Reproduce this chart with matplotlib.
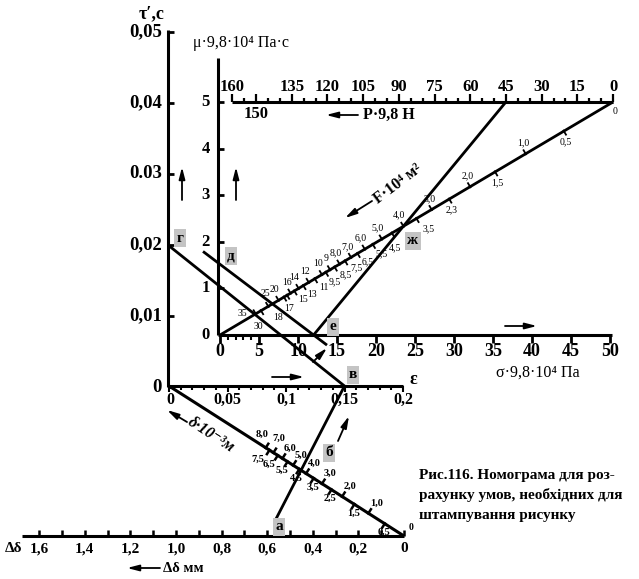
import numpy as np
import matplotlib
matplotlib.use("Agg")
import matplotlib.pyplot as plt

plt.rcParams["font.family"] = ["Liberation Serif", "DejaVu Serif"]

# --- scale values -------------------------------------------------------
tau_vals = [0, 0.01, 0.02, 0.03, 0.04, 0.05]
tau_labels = ["0", "0,01", "0,02", "0.03", "0,04", "0,05"]
mu_vals = [0, 1, 2, 3, 4, 5]
sigma_vals = [0, 5, 10, 15, 20, 25, 30, 35, 40, 45, 50]
sigma_minor = [1, 2, 3, 4]
p_top = [160, 135, 120, 105, 90, 75, 60, 45, 30, 15, 0]
p_bottom = [150]
p_minor = list(range(0, 161, 5))
f_vals = [0.5, 1.0, 1.5, 2.0, 2.5, 3.0, 3.5, 4.0, 4.5, 5.0, 5.5, 6.0, 6.5, 7.0,
          7.5, 8.0, 8.5, 9, 9.5, 10, 11, 12, 13, 14, 15, 16, 17, 18, 20, 25, 30, 35]
f_labels = ["0,5", "1,0", "1,5", "2,0", "2,3", "3,0", "3,5", "4,0", "4,5", "5,0",
            "5,5", "6,0", "6,5", "7,0", "7,5", "8,0", "8,5", "9", "9,5", "10",
            "11", "12", "13", "14", "15", "16", "17", "18", "20", "25", "30", "35"]
f_side = [-1, 1, -1, 1, -1, 1, -1, 1, -1, 1, -1, 1, -1, 1, -1, 1, -1, 1, -1, 1,
          -1, 1, -1, 1, -1, 1, -1, -1, 1, 1, -1, 1]
eps_vals = [0, 0.05, 0.1, 0.15, 0.2]
eps_labels = ["0", "0,05", "0,1", "0,15", "0,2"]
eps_minor = [i / 100 for i in range(21)]
delta_vals = [0.5, 1.0, 1.5, 2.0, 2.5, 3.0, 3.5, 4.0, 4.5, 5.0, 5.5, 6.0, 6.5, 7.0, 7.5, 8.0]
delta_labels = ["0,5", "1,0", "1,5", "2,0", "2,5", "3,0", "3,5", "4,0", "4,5", "5,0",
                "5,5", "6,0", "6,5", "7,0", "7,5", "8,0"]
dd_vals = [0, 0.2, 0.4, 0.6, 0.8, 1.0, 1.2, 1.4, 1.6]
dd_labels = ["0", "0,2", "0,4", "0,6", "0,8", "1,0", "1,2", "1,4", "1,6"]
dd_minor = [i / 10 for i in range(17)]

# worked example on the nomogram
ex_tau = 0.02
ex_mu = 1.55
ex_sigma = 12
ex_p = 45
ex_eps = 0.15
ex_dd = 0.6


# --- nomogram scales (pixel space) --------------------------------------
def tau_xy(v):
    return 168, 387 - 7100 * v


def mu_xy(v):
    return 218, 335 - 46.6 * v


def sigma_xy(v):
    return 220 + 7.8 * v, 335


def p_xy(v):
    return 613 - 2.38 * v, 102


def f_xy(v):
    t = v / (v + 3.5)
    x0, y0 = p_xy(0)
    x1, y1 = sigma_xy(0)
    return x0 + (x1 - x0) * t, y0 + (y1 - y0) * t


def eps_xy(v):
    return 169 + 1170 * v, 386


def dd_xy(v):
    return 404 - 228 * v, 536


def delta_xy(v):
    t = v / (v + 5.6)
    x0, y0 = dd_xy(0)
    x1, y1 = eps_xy(0)
    return x0 + (x1 - x0) * t, y0 + (y1 - y0) * t


# label nudges where the slanted scales get crowded
def f_offset(v, side):
    crowd = {18: (-6, 20), 17: (2, 13), 30: (-3, 16), 35: (-13, 0), 25: (-3, -13),
             9.5: (9, 10), 8.5: (11, 8), 7.5: (11, 7), 6.5: (10, 8),
             4.5: (3, 15), 3.5: (12, 10)}
    if v in crowd:
        return crowd[v]
    if side > 0:
        return (-2, -11) if v < 4 else (-4, -11)
    return (2, 11) if v < 4 else (9, 9)


def delta_offset(v, side):
    if side > 0:
        return {7.0: (5, -14), 8.0: (-4, -13)}.get(v, (8, -10))
    return (-1 - 3 * max(0, v - 4), 9)


fig = plt.figure(figsize=(6.39, 5.79), dpi=100)
ax = fig.add_axes([0, 0, 1, 1])
ax.set_xlim(0, 639)
ax.set_ylim(579, 0)
ax.axis("off")

K = "black"
AX_LW = 2.2


def seg(p, q, lw=AX_LW):
    ax.plot([p[0], q[0]], [p[1], q[1]], color=K, lw=lw, solid_capstyle="butt")


def arrow(p, q):
    ax.annotate("", xy=q, xytext=p,
                arrowprops=dict(arrowstyle="-|>,head_length=0.7,head_width=0.18",
                                color=K, lw=1.3, shrinkA=0, shrinkB=0))


def tag(x, y, s):
    ax.text(x, y, s, ha="center", va="center", fontsize=11, fontweight="bold",
            bbox=dict(boxstyle="square,pad=0.15", fc="#c4c4c4", ec="none"))


# tau axis
seg((168, 30), tau_xy(0))
for v, s in zip(tau_vals, tau_labels):
    x, y = tau_xy(v)
    seg((x, y), (x + 6, y), 2)
    ax.text(x - 6, y, s, ha="right", va="center", fontsize=13.5, fontweight="bold")
ax.text(139, 14, "τ′,с", ha="left", va="center", fontsize=13, fontweight="bold")

# mu axis
seg((218, 58), mu_xy(0))
for v in mu_vals:
    x, y = mu_xy(v)
    seg((x, y), (x + 6, y), 2)
    ax.text(x - 8, y, str(v), ha="right", va="center", fontsize=12, fontweight="bold")
ax.text(193, 43, "μ·9,8·10⁴ Па·с", ha="left", va="center", fontsize=11.5)

# sigma axis
seg(sigma_xy(0), (612, 335))
for v in sigma_vals:
    x, y = sigma_xy(v)
    seg((x, y), (x, y + 8), 2)
    ax.text(x, y + 17, str(v), ha="center", va="center", fontsize=13, fontweight="bold")
for v in sigma_minor:
    x, y = sigma_xy(v)
    seg((x, y), (x, y + 5), 1.5)
ax.text(538, 373, "σ·9,8·10⁴ Па", ha="center", va="center", fontsize=11.5)

# P axis
seg(p_xy(160), p_xy(0))
for v in p_minor:
    x, y = p_xy(v)
    h = 8 if (v in p_top or v in p_bottom) else 4
    seg((x, y), (x, y - h), 1.6)
for v in p_top:
    x, y = p_xy(v)
    ax.text(x, y - 15, str(v), ha="center", va="center", fontsize=12, fontweight="bold")
for v in p_bottom:
    x, y = p_xy(v)
    ax.text(x, y + 12, str(v), ha="center", va="center", fontsize=12, fontweight="bold")
ax.text(363, 115, "P·9,8 Н", ha="left", va="center", fontsize=11.5, fontweight="bold")

# F scale (slanted)
seg(f_xy(0), sigma_xy(0), 2)
fx0, fy0 = f_xy(0)
fx1, fy1 = sigma_xy(0)
L = np.hypot(fx1 - fx0, fy1 - fy0)
nx, ny = -abs((fy1 - fy0) / L), -abs((fx1 - fx0) / L)  # normal pointing up-left
for v, s, side in zip(f_vals, f_labels, f_side):
    x, y = f_xy(v)
    seg((x - side * nx * 1.5, y - side * ny * 1.5), (x + side * nx * 5, y + side * ny * 5), 1.3)
    ox, oy = f_offset(v, side)
    ax.text(x + ox, y + oy, s, ha="center", va="center", fontsize=7)
ax.text(fx0 + 2, fy0 + 10, "0", ha="center", va="center", fontsize=7)
ax.text(398, 184, "F·10⁴ м²", ha="center", va="center", rotation=37,
        fontsize=11.5, fontweight="bold")

# epsilon axis
seg(eps_xy(0), eps_xy(0.2))
for v in eps_minor:
    x, y = eps_xy(v)
    h = 6 if round(v * 100) % 5 == 0 else 4
    seg((x, y), (x, y + h), 1.5)
for v, s in zip(eps_vals, eps_labels):
    x, y = eps_xy(v)
    ax.text(x + (0 if v else 1), y + 14, s, ha="center", va="center",
            fontsize=11.5, fontweight="bold")
ax.text(410, 380, "ε", ha="left", va="center", fontsize=13, fontweight="bold")

# delta scale (slanted)
seg(eps_xy(0), dd_xy(0))
dx0, dy0 = dd_xy(0)
dx1, dy1 = eps_xy(0)
L = np.hypot(dx1 - dx0, dy1 - dy0)
mx, my = abs((dy1 - dy0) / L), -abs((dx1 - dx0) / L)  # normal pointing up-right
for i, (v, s) in enumerate(zip(delta_vals, delta_labels)):
    x, y = delta_xy(v)
    side = 1 if i % 2 else -1
    seg((x - side * mx * 1.5, y - side * my * 1.5), (x + side * mx * 6, y + side * my * 6), 1.8)
    ox, oy = delta_offset(v, side)
    ax.text(x + ox, y + oy, s, ha="center", va="center", fontsize=7.5, fontweight="bold")
ax.text(dx0 + 7, dy0 - 9, "0", ha="center", va="center", fontsize=7, fontweight="bold")
ax.text(211, 435, "δ·10⁻³м", ha="center", va="center", rotation=-33,
        fontsize=11.5, fontweight="bold", style="italic")

# delta-delta axis
seg((22, 536), dd_xy(0))
for v in dd_minor:
    x, y = dd_xy(v)
    seg((x, y), (x, y - 6), 1.8)
for v, s in zip(dd_vals, dd_labels):
    x, y = dd_xy(v)
    ax.text(x, y + 13, s, ha="center", va="center", fontsize=11, fontweight="bold")
ax.text(5, 549, "Δδ", ha="left", va="center", fontsize=11, fontweight="bold")
ax.text(163, 568, "Δδ мм", ha="left", va="center", fontsize=10.5, fontweight="bold")

# worked example lines
seg(tau_xy(ex_tau), eps_xy(ex_eps), 2)
seg(p_xy(ex_p), sigma_xy(ex_sigma), 2)
mx0, my0 = mu_xy(ex_mu)
sx0, sy0 = sigma_xy(ex_sigma)
k = (sy0 - my0) / (sx0 - mx0)
seg((203, my0 + k * (203 - mx0)), (327, my0 + k * (327 - mx0)), 2)
ax0, ay0 = dd_xy(ex_dd)
bx0, by0 = eps_xy(ex_eps)
seg((ax0 + 0.1 * (bx0 - ax0), ay0 + 0.1 * (by0 - ay0)), (bx0, by0), 2)

# arrows
arrow((182, 200), (182, 167))
arrow((236, 200), (236, 167))
arrow((358, 115), (326, 115))
arrow((372, 201), (345, 218))
arrow((505, 326), (537, 326))
arrow((313, 362), (327, 348))
arrow((272, 377), (304, 377))
arrow((187, 422), (167, 410))
arrow((338, 441), (349, 416))
arrow((160, 568), (127, 568))

# point tags
tag(180, 238, "г")
tag(231, 256, "д")
tag(333, 327, "е")
tag(413, 241, "ж")
tag(353, 375, "в")
tag(329, 453, "б")
tag(279, 527, "а")

# caption
cap = dict(fontsize=11, fontweight="bold", ha="left", va="center")
ax.text(419, 475, "Рис.116. Номограма для роз-", **cap)
ax.text(419, 495, "рахунку умов, необхідних для", **cap)
ax.text(419, 515, "штампування рисунку", **cap)

fig.savefig("out.png", dpi=100)
